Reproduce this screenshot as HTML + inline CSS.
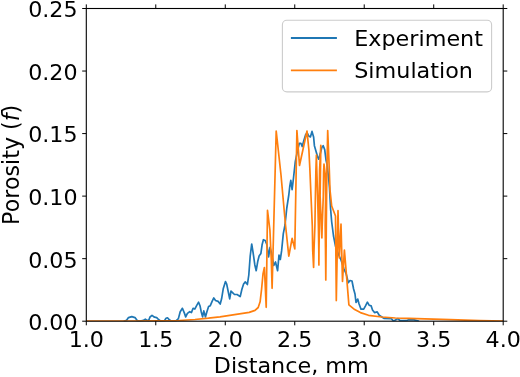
<!DOCTYPE html>
<html><head><meta charset="utf-8"><title>Porosity vs Distance</title>
<style>html,body{margin:0;padding:0;background:#fff}svg{display:block}</style></head>
<body>
<svg width="520" height="377" viewBox="0 0 520 377" font-family="'DejaVu Sans', 'Liberation Sans', sans-serif" font-size="22.2" fill="#000">
<rect width="520" height="377" fill="#fff"/>
<clipPath id="c"><rect x="86.3" y="8.5" width="416.9" height="312.7"/></clipPath>
<g clip-path="url(#c)" fill="none" stroke-width="1.7" stroke-linejoin="round" stroke-linecap="square">
<polyline stroke="#1f77b4" points="124.50,321.00 126.40,320.40 128.50,317.60 131.80,316.60 135.00,317.60 137.20,320.60 140.00,321.00 143.50,320.40 145.30,319.20 147.20,320.40 148.60,320.60 150.00,317.00 152.00,315.40 154.50,317.20 156.70,317.60 158.50,319.50 160.50,321.00 164.50,320.60 166.00,318.30 167.50,317.80 169.00,319.50 171.00,321.00 176.00,320.80 178.40,318.60 180.20,311.70 182.40,308.30 184.50,313.40 185.70,316.90 187.40,313.40 189.70,311.70 191.40,312.60 193.10,308.30 194.80,309.10 196.60,305.70 198.60,302.20 200.00,305.70 201.20,311.70 202.60,316.90 203.80,310.90 205.50,316.90 206.90,311.70 208.60,306.60 210.30,305.70 212.10,301.40 213.80,297.90 215.50,300.50 218.10,301.40 220.20,304.00 221.60,298.80 223.30,288.40 225.50,281.60 226.70,284.10 228.10,291.00 229.70,298.80 231.00,291.00 232.80,292.80 234.50,294.50 237.10,294.50 240.20,296.60 241.90,289.30 243.60,284.00 245.30,281.90 247.40,284.50 248.80,275.00 250.20,256.00 251.70,244.00 253.10,252.60 254.80,264.70 256.20,270.70 257.80,261.20 259.10,256.00 260.90,253.40 262.10,244.80 263.40,239.70 265.20,240.50 266.90,244.80 268.60,256.90 270.00,247.40 271.50,253.00 273.80,265.50 275.50,262.00 277.60,270.70 279.00,255.20 280.30,259.50 281.60,250.90 283.30,233.60 285.00,225.00 286.80,208.00 288.80,195.00 289.70,187.00 290.80,180.30 292.10,189.60 293.50,178.00 295.30,161.60 296.90,153.60 299.30,143.30 300.90,143.30 302.20,146.50 304.00,140.00 305.70,134.50 307.30,133.20 308.80,136.10 310.40,136.90 312.00,131.40 313.60,136.90 314.40,145.70 316.00,151.20 317.60,156.80 318.70,159.20 320.30,153.60 321.90,147.30 323.20,145.70 324.70,149.60 326.00,160.00 327.10,164.70 328.70,179.00 329.50,188.00 330.60,209.00 331.70,222.00 333.50,236.00 335.60,246.50 338.80,255.00 341.00,260.00 344.00,269.00 346.20,274.00 348.30,282.60 350.00,280.50 352.00,281.00 353.60,289.00 355.00,294.00 356.00,302.50 357.70,299.10 359.00,303.80 361.00,309.20 363.70,309.20 365.50,305.90 367.40,302.20 369.10,305.20 371.20,305.90 372.50,309.90 374.50,312.60 377.20,311.90 379.20,315.30 381.90,317.00 383.90,318.40 391.30,318.60 393.40,321.00 395.40,320.00 398.00,318.60 400.00,320.70 406.00,320.70 408.80,319.70 414.20,319.90 418.30,321.00"/>
<polyline stroke="#ff7f0e" points="86.30,321.10 130.00,321.00 160.00,320.80 179.00,320.50 195.00,319.50 208.40,318.20 220.00,316.80 234.60,314.70 249.20,312.40 255.00,310.40 258.20,307.50 260.10,301.80 261.60,289.00 263.00,274.00 264.40,267.50 266.20,307.30 267.50,210.30 269.90,230.00 271.30,260.00 272.10,288.30 276.20,131.00 281.00,175.00 285.50,225.00 288.80,256.20 292.10,238.30 294.80,248.90 296.90,130.50 299.50,165.50 307.00,131.00 308.90,150.00 309.90,170.00 311.00,196.00 312.30,226.00 312.70,250.00 313.60,267.50 314.00,250.00 314.90,226.00 315.40,196.00 315.90,170.00 316.40,155.00 316.80,170.00 317.60,196.00 318.40,226.00 318.80,250.00 318.90,265.00 319.00,250.00 319.40,226.00 319.30,196.00 319.60,170.00 320.80,145.30 320.50,170.00 320.10,196.00 321.40,226.00 321.90,238.00 322.20,226.00 323.30,196.00 323.60,172.00 324.00,164.00 325.20,174.00 325.60,196.00 325.20,226.00 325.50,250.00 325.80,280.00 326.10,250.00 326.30,226.00 326.60,196.00 326.90,170.00 327.70,130.60 328.50,150.00 329.30,170.00 330.00,190.00 331.70,206.00 335.50,216.00 336.30,300.60 338.00,210.70 339.30,258.00 341.00,224.20 342.50,281.50 344.40,250.00 348.90,304.90 354.70,309.60 360.40,312.60 368.50,315.30 381.90,317.00 395.40,318.00 408.80,318.40 425.00,318.80 450.00,319.70 480.00,320.60 503.20,321.10"/>
</g>
<g stroke="#000" stroke-width="1" fill="none">
<path d="M86.30 321.2v4.1M86.30 8.5v-4.1"/>
<path d="M155.78 321.2v4.1M155.78 8.5v-4.1"/>
<path d="M225.27 321.2v4.1M225.27 8.5v-4.1"/>
<path d="M294.75 321.2v4.1M294.75 8.5v-4.1"/>
<path d="M364.23 321.2v4.1M364.23 8.5v-4.1"/>
<path d="M433.72 321.2v4.1M433.72 8.5v-4.1"/>
<path d="M503.20 321.2v4.1M503.20 8.5v-4.1"/>
<path d="M86.3 321.20h-4.1M503.2 321.20h4.1"/>
<path d="M86.3 258.66h-4.1M503.2 258.66h4.1"/>
<path d="M86.3 196.12h-4.1M503.2 196.12h4.1"/>
<path d="M86.3 133.58h-4.1M503.2 133.58h4.1"/>
<path d="M86.3 71.04h-4.1M503.2 71.04h4.1"/>
<path d="M86.3 8.50h-4.1M503.2 8.50h4.1"/>
<rect x="86.3" y="8.5" width="416.9" height="312.7" stroke-width="1.1"/>
</g>
<text transform="translate(86.30 347.20) scale(1.0 0.965)" text-anchor="middle">1.0</text>
<text transform="translate(155.78 347.20) scale(1.0 0.965)" text-anchor="middle">1.5</text>
<text transform="translate(225.27 347.20) scale(1.0 0.965)" text-anchor="middle">2.0</text>
<text transform="translate(294.75 347.20) scale(1.0 0.965)" text-anchor="middle">2.5</text>
<text transform="translate(364.23 347.20) scale(1.0 0.965)" text-anchor="middle">3.0</text>
<text transform="translate(433.72 347.20) scale(1.0 0.965)" text-anchor="middle">3.5</text>
<text transform="translate(503.20 347.20) scale(1.0 0.965)" text-anchor="middle">4.0</text>
<text transform="translate(77.60 330.10) scale(1.0 0.965)" text-anchor="end">0.00</text>
<text transform="translate(77.60 267.56) scale(1.0 0.965)" text-anchor="end">0.05</text>
<text transform="translate(77.60 205.02) scale(1.0 0.965)" text-anchor="end">0.10</text>
<text transform="translate(77.60 142.48) scale(1.0 0.965)" text-anchor="end">0.15</text>
<text transform="translate(77.60 79.94) scale(1.0 0.965)" text-anchor="end">0.20</text>
<text transform="translate(77.60 17.40) scale(1.0 0.965)" text-anchor="end">0.25</text>
<text transform="translate(291.25 373.20) scale(1.004 0.965)" text-anchor="middle">Distance, mm</text>
<text transform="translate(19.2 164.85) rotate(-90)" text-anchor="middle">Porosity (<tspan font-style="italic">f</tspan>)</text>
<rect x="282.4" y="20.3" width="209.2" height="71.6" rx="4.4" fill="#fff" fill-opacity="0.8" stroke="#ccc" stroke-width="1.1"/>
<path d="M290.9 38.0h46" stroke="#1f77b4" stroke-width="1.9" fill="none"/>
<path d="M290.9 70.4h46" stroke="#ff7f0e" stroke-width="1.9" fill="none"/>
<text transform="translate(354.20 45.50) scale(1.004 0.965)" text-anchor="start">Experiment</text>
<text transform="translate(354.20 77.80) scale(1.004 0.965)" text-anchor="start">Simulation</text>
</svg>
</body></html>
